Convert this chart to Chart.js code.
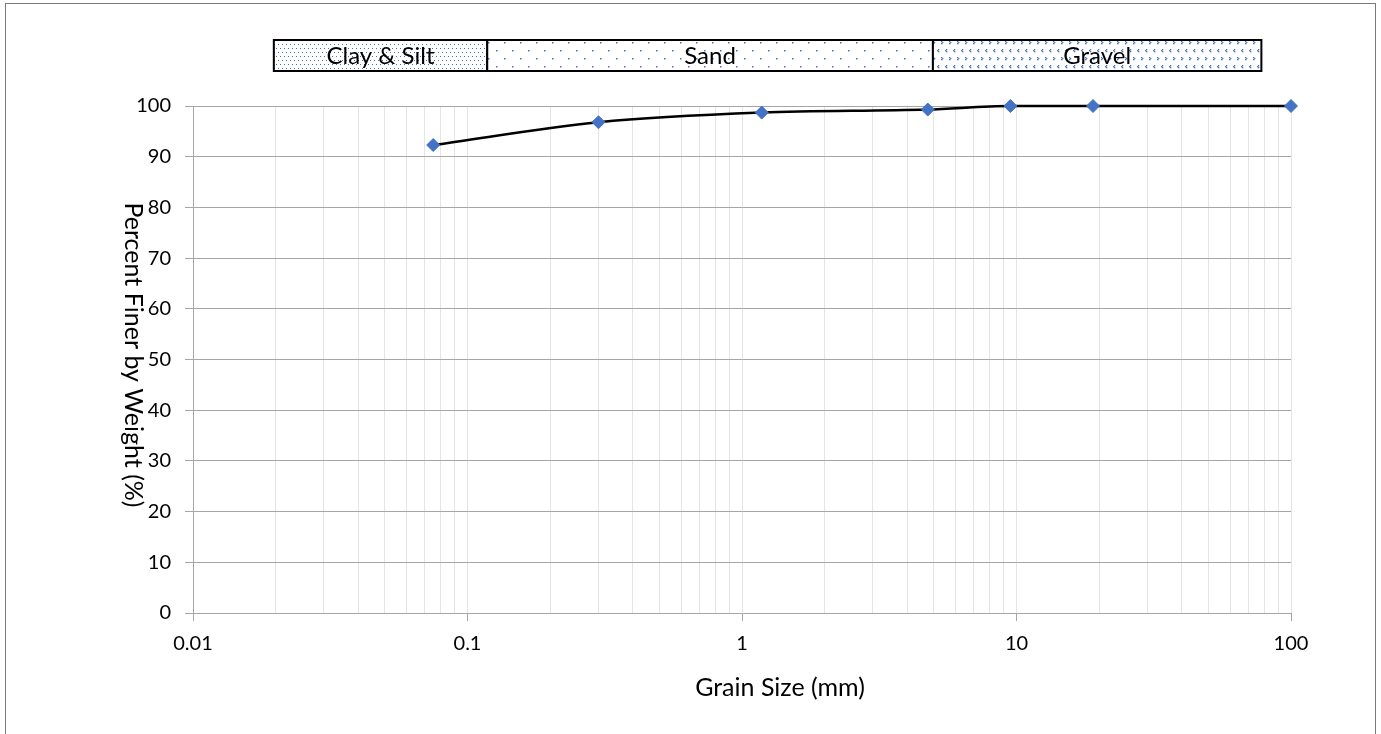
<!DOCTYPE html>
<html>
<head>
<meta charset="utf-8">
<script src="https://cdn.jsdelivr.net/npm/chart.js@4"></script>
<style>
  body { margin: 0; background: #fff; overflow: hidden; }
  #wrap { position: relative; width: 1381px; height: 734px; }
  #frame { position: absolute; left: 5px; top: 3px; width: 1371px; height: 800px; border: 1px solid #7a7a7a; box-sizing: border-box; }
</style>
</head>
<body>
<div id="wrap">
  <div id="frame"></div>
  <canvas id="gradation-chart"></canvas>
</div>
<script>
// sieve results
const grainSizes = [0.075, 0.3, 1.18, 4.75, 9.5, 19, 100];
const percentFiner = [92.3, 96.8, 98.7, 99.3, 100, 100, 100];

// log axis ticks
const decades = [0.01, 0.1, 1, 10, 100];
const minorSteps = [1, 2, 3, 4, 5, 6, 7, 8, 9];

// soil classes shown above the plot
const soilClasses = ['Clay & Silt', 'Sand', 'Gravel'];
const classLimits = [0.0197, 0.118, 4.96, 78];

const FONT = 'Lato';
const BLUE = '#4472C4';

const makePattern = (w, h, dots, size) => {
    const c = document.createElement('canvas');
    c.width = w;
    c.height = h;
    const g = c.getContext('2d');
    g.fillStyle = '#fff';
    g.fillRect(0, 0, w, h);
    g.fillStyle = BLUE;
    dots.forEach(([x, y]) => g.fillRect(x, y, size, size));
    return g.createPattern(c, 'repeat');
};

const soilBands = {
    id: 'soilBands',
    afterDraw(chart) {
        const ctx = chart.ctx;
        const x = chart.scales.x;
        const patterns = [
            makePattern(4, 8, [[0, 0], [2, 4]], 1),
            makePattern(16, 16, [[0, 2], [8, 10]], 1.5),
            makePattern(8, 16, [[2, 1], [1, 2], [2, 3], [5, 9], [6, 10], [5, 11]], 1.3)
        ];
        const top = 40, h = 31;
        ctx.save();
        soilClasses.forEach((name, i) => {
            const x0 = x.getPixelForValue(classLimits[i]);
            const x1 = x.getPixelForValue(classLimits[i + 1]);
            ctx.fillStyle = patterns[i];
            ctx.fillRect(x0, top, x1 - x0, h);
            ctx.lineWidth = 2;
            ctx.strokeStyle = '#000';
            ctx.strokeRect(x0, top, x1 - x0, h);
            ctx.fillStyle = '#000';
            ctx.font = '24px ' + FONT;
            ctx.textAlign = 'center';
            ctx.textBaseline = 'middle';
            ctx.fillText(name, (x0 + x1) / 2, top + h / 2 + 1);
        });

        // x title sits right of centre in the original
        ctx.font = '25px ' + FONT;
        ctx.fillText('Grain Size (mm)', 780, 688);

        // y title, turned clockwise as in the original sheet
        ctx.translate(133, 355);
        ctx.rotate(Math.PI / 2);
        ctx.fillText('Percent Finer by Weight (%)', 0, 0);
        ctx.restore();
    }
};

const tickValues = [];
decades.forEach(d => {
    if (d === 100) { tickValues.push(d); return; }
    minorSteps.forEach(m => tickValues.push(+(d * m).toPrecision(3)));
});
const isDecade = v => Math.abs(Math.log10(v) - Math.round(Math.log10(v))) < 1e-9;

new Chart(document.getElementById('gradation-chart').getContext('2d'), {
    type: 'line',
    data: {
        datasets: [{
            label: 'Gradation',
            data: grainSizes.map((g, i) => ({ x: g, y: percentFiner[i] })),
            borderColor: '#000',
            borderWidth: 2.5,
            cubicInterpolationMode: 'monotone',
            clip: false,
            pointStyle: 'rectRot',
            pointRadius: 6.5,
            pointBackgroundColor: BLUE,
            pointBorderColor: BLUE,
            pointBorderWidth: 1
        }]
    },
    options: {
        responsive: true,
        maintainAspectRatio: false,
        animation: false,
        layout: { padding: { top: 106, right: 90, bottom: 0, left: 0 } },
        plugins: { legend: { display: false }, tooltip: { enabled: false } },
        scales: {
            x: {
                type: 'logarithmic',
                min: 0.01,
                max: 100,
                afterBuildTicks: s => { s.ticks = tickValues.map(v => ({ value: v, major: isDecade(v) })); },
                afterFit: s => { s.height = 121; },
                grid: {
                    color: '#e4e4e4',
                    lineWidth: 1,
                    tickLength: 8,
                    tickColor: c => (c.tick && isDecade(c.tick.value)) ? '#a6a6a6' : 'rgba(0,0,0,0)'
                },
                border: { color: '#a6a6a6', width: 1 },
                ticks: {
                    autoSkip: false,
                    maxRotation: 0,
                    padding: 11,
                    color: '#000',
                    font: { family: FONT, size: 20 },
                    callback: v => isDecade(v) ? String(v) : ''
                }
            },
            y: {
                min: 0,
                max: 100,
                afterFit: s => { s.width = 193; },
                grid: { color: '#a6a6a6', lineWidth: 1, tickLength: 8 },
                border: { color: '#a6a6a6', width: 1 },
                ticks: {
                    stepSize: 10,
                    padding: 14,
                    color: '#000',
                    font: { family: FONT, size: 20 }
                }
            }
        }
    },
    plugins: [soilBands]
});
</script>
</body>
</html>
